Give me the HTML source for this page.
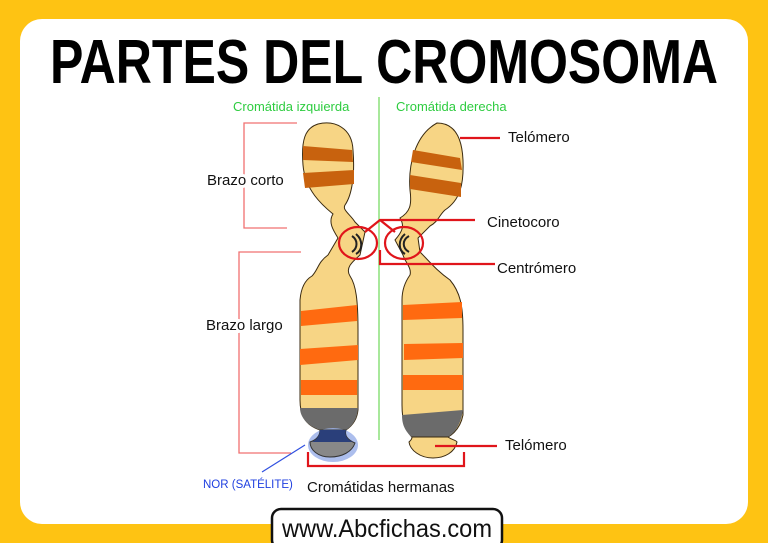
<!DOCTYPE html>
<html><head><meta charset="utf-8"><style>
html,body{margin:0;padding:0;width:768px;height:543px;overflow:hidden;background:#FEC313;}
svg{display:block}
</style></head><body>
<svg width="768" height="543" viewBox="0 0 768 543" xmlns="http://www.w3.org/2000/svg" font-family="Liberation Sans, sans-serif">
<rect x="0" y="0" width="768" height="543" fill="#FEC313"/>
<rect x="20" y="19" width="728" height="505" rx="22" fill="#fff"/>
<text x="50" y="83" font-size="62" font-weight="bold" textLength="668" lengthAdjust="spacingAndGlyphs" fill="#000">PARTES DEL CROMOSOMA</text>

<text x="233" y="111" font-size="13" fill="#2ecc40">Cromátida izquierda</text>
<text x="396" y="111" font-size="13" fill="#2ecc40">Cromátida derecha</text>
<line x1="379" y1="97" x2="379" y2="440" stroke="#8be07a" stroke-width="1.5"/>

<!-- left chromatid -->
<g stroke="#3a2a10" stroke-width="1">
<path d="M318,124 C335,120 352,128 353,150 C355,175 352,195 345,205 C342,210 350,214 355,222 L365,232 L360,255 C352,262 345,268 350,276 C356,285 358,300 358,330 L358,410 C357,420 352,426 346,430 L320,430 C305,425 300,415 300,400 L300,300 C301,288 305,280 312,276 C318,270 318,262 328,255 L338,238 C333,230 328,222 333,214 C322,205 305,190 303,165 C301,140 305,128 318,124 Z" fill="#F7D585"/>
<path d="M300,408 L358,408 C357,420 352,426 346,430 L320,430 C305,425 300,415 300,408 Z" fill="#6b6b6b" stroke="none"/>
<path d="M303,146 L352,150 L353,162 L303,160 Z" fill="#C8620E" stroke="none"/>
<path d="M303,173 L354,170 L354,184 L305,188 Z" fill="#C8620E" stroke="none"/>
<path d="M301,311 L357,305 L357,321 L301,326 Z" fill="#FF6A10" stroke="none"/>
<path d="M300,349 L358,345 L358,360 L300,365 Z" fill="#FF6A10" stroke="none"/>
<path d="M301,380 L357,380 L357,395 L301,395 Z" fill="#FF6A10" stroke="none"/>
</g>
<ellipse cx="333" cy="445" rx="25" ry="17" fill="#9db3ea" opacity="0.85"/>
<path d="M320,430 L346,430 C344,436 348,440 355,443 C352,452 342,457 330,457 C318,457 310,450 310,442 C316,440 320,436 320,430 Z" fill="#888" stroke="#333" stroke-width="1"/>
<path d="M320,430 L346,430 C344,436 348,440 353,442 L312,442 C316,440 320,436 320,430 Z" fill="#2a3f7a"/>

<!-- right chromatid -->
<g stroke="#3a2a10" stroke-width="1">
<path d="M437,123 C455,123 462,138 463,160 C464,185 460,200 445,210 C440,214 438,222 430,226 L418,238 L420,252 C430,262 436,270 450,280 C460,292 463,305 463,330 L463,415 C460,430 450,438 440,440 L415,440 C405,432 402,420 402,405 L402,300 C402,290 405,282 410,275 C412,268 405,262 403,255 L395,240 C402,232 405,226 400,218 C410,212 412,205 410,190 C408,165 415,135 437,123 Z" fill="#F7D585"/>
<path d="M402,415 L463,410 C460,430 450,438 440,440 L415,440 C405,432 402,425 402,415 Z" fill="#6b6b6b" stroke="none"/>
<path d="M413,150 L460,158 L462,170 L411,162 Z" fill="#C8620E" stroke="none"/>
<path d="M410,175 L461,183 L461,197 L410,189 Z" fill="#C8620E" stroke="none"/>
<path d="M403,305 L462,302 L462,318 L403,320 Z" fill="#FF6A10" stroke="none"/>
<path d="M404,344 L463,343 L463,358 L404,360 Z" fill="#FF6A10" stroke="none"/>
<path d="M403,375 L463,375 L463,390 L403,390 Z" fill="#FF6A10" stroke="none"/>
</g>
<path d="M412,437 L448,437 C452,440 456,440 457,442 C455,452 445,458 433,458 C420,458 410,450 409,442 C411,440 412,439 412,437 Z" fill="#F7D585" stroke="#3a2a10" stroke-width="1"/>

<!-- centromere marks -->
<g stroke="#222" stroke-width="2" fill="none">
<path d="M352,236 C358,240 358,248 352,252"/><path d="M356,234 C363,240 363,250 356,254"/>
<path d="M409,236 C402,240 402,248 409,252"/><path d="M405,234 C398,240 398,250 405,254"/>
</g>
<g stroke="#e0151b" stroke-width="2.2" fill="none">
<ellipse cx="358" cy="243" rx="19" ry="16"/>
<ellipse cx="404" cy="243" rx="19" ry="16"/>
<line x1="460" y1="138" x2="500" y2="138"/>
<polyline points="365,232 380,220 475,220"/>
<line x1="380" y1="220" x2="395" y2="232"/>
<polyline points="380,250 380,264 495,264"/>
<line x1="435" y1="446" x2="497" y2="446"/>
<polyline points="308,452 308,466 464,466 464,452"/>
</g>
<g stroke="#f07070" stroke-width="1.3" fill="none">
<polyline points="297,123 244,123 244,228 287,228"/>
<polyline points="301,252 239,252 239,453 291,453"/>
</g>
<line x1="262" y1="472" x2="305" y2="445" stroke="#3050e0" stroke-width="1.2"/>

<g font-size="15" fill="#111">
<text x="207" y="185" fill="#fff" stroke="#fff" stroke-width="6">Brazo corto</text>
<text x="207" y="185">Brazo corto</text>
<text x="206" y="330" fill="#fff" stroke="#fff" stroke-width="6">Brazo largo</text>
<text x="206" y="330">Brazo largo</text>
<text x="508" y="142">Telómero</text>
<text x="487" y="227">Cinetocoro</text>
<text x="497" y="273">Centrómero</text>
<text x="505" y="450">Telómero</text>
<text x="307" y="492">Cromátidas hermanas</text>
</g>
<text x="203" y="488" font-size="11.5" fill="#2040e0">NOR (SATÉLITE)</text>

<rect x="272" y="509" width="230" height="40" rx="9" fill="#fff" stroke="#111" stroke-width="2.5"/>
<text x="387" y="537" font-size="25" text-anchor="middle" fill="#111" textLength="210" lengthAdjust="spacingAndGlyphs">www.Abcfichas.com</text>
</svg>
</body></html>
